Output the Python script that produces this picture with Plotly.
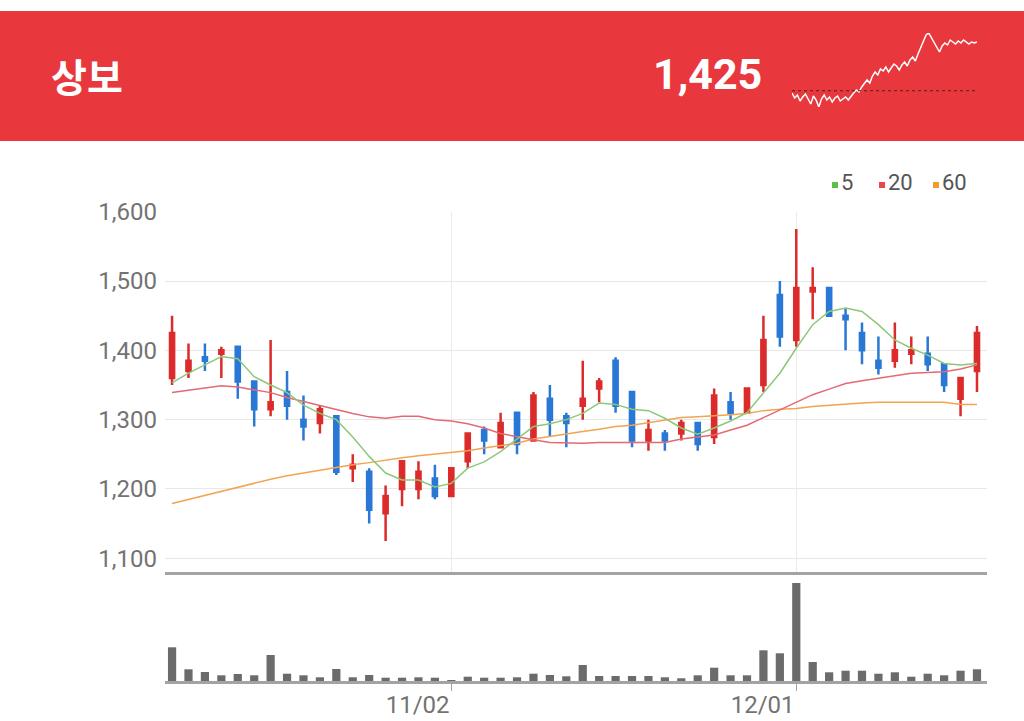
import plotly.graph_objects as go

W, H = 1024, 721

stock_name = "상보"
last_price = "1,425"

dates = [
    "10/07", "10/08", "10/12", "10/13", "10/14", "10/15", "10/16", "10/19", "10/20", "10/21",
    "10/22", "10/23", "10/26", "10/27", "10/28", "10/29", "10/30", "11/02", "11/03", "11/04",
    "11/05", "11/06", "11/09", "11/10", "11/11", "11/12", "11/13", "11/16", "11/17", "11/18",
    "11/19", "11/20", "11/23", "11/24", "11/25", "11/26", "11/27", "11/30", "12/01", "12/02",
    "12/03", "12/04", "12/07", "12/08", "12/09", "12/10", "12/11", "12/14", "12/15", "12/16",
]
opens = [1360, 1370, 1390, 1395, 1405, 1355, 1315, 1340, 1300, 1295,
         1305, 1230, 1225, 1165, 1200, 1200, 1215, 1190, 1240, 1285,
         1260, 1310, 1270, 1330, 1305, 1320, 1345, 1385, 1340, 1270,
         1280, 1280, 1295, 1275, 1325, 1310, 1350, 1480, 1415, 1485,
         1490, 1450, 1425, 1385, 1385, 1395, 1395, 1380, 1330, 1370]
highs = [1450, 1410, 1410, 1405, 1405, 1355, 1415, 1370, 1335, 1320,
         1305, 1250, 1230, 1205, 1240, 1240, 1235, 1230, 1280, 1290,
         1310, 1310, 1340, 1350, 1310, 1385, 1360, 1390, 1340, 1300,
         1285, 1300, 1295, 1345, 1340, 1345, 1450, 1500, 1575, 1520,
         1490, 1460, 1440, 1420, 1440, 1420, 1420, 1380, 1360, 1435]
lows = [1350, 1360, 1370, 1360, 1330, 1290, 1305, 1300, 1270, 1280,
        1220, 1210, 1150, 1125, 1175, 1185, 1185, 1190, 1230, 1250,
        1260, 1250, 1270, 1275, 1260, 1300, 1325, 1310, 1260, 1255,
        1255, 1270, 1255, 1265, 1300, 1310, 1340, 1405, 1405, 1445,
        1450, 1400, 1380, 1365, 1375, 1380, 1370, 1340, 1305, 1340]
closes = [1425, 1385, 1385, 1400, 1355, 1315, 1325, 1320, 1290, 1315,
          1225, 1235, 1170, 1190, 1240, 1225, 1190, 1230, 1280, 1270,
          1295, 1265, 1335, 1300, 1295, 1330, 1355, 1320, 1270, 1285,
          1270, 1295, 1265, 1335, 1310, 1345, 1415, 1420, 1490, 1490,
          1450, 1445, 1400, 1375, 1400, 1400, 1380, 1350, 1360, 1425]

ma5 = [1353, 1367, 1379, 1391, 1388, 1362, 1350, 1339, 1321, 1309,
       1300, 1275, 1247, 1223, 1213, 1213, 1203, 1208, 1230, 1239,
       1254, 1272, 1290, 1294, 1300, 1309, 1324, 1322, 1315, 1313,
       1302, 1288, 1279, 1288, 1298, 1310, 1338, 1367, 1403, 1437,
       1456, 1461, 1456, 1437, 1415, 1403, 1393, 1381, 1379, 1381]
ma20 = [1339, 1342, 1345, 1349, 1347, 1343, 1339, 1332, 1326, 1321,
        1315, 1309, 1304, 1302, 1305, 1305, 1300, 1298, 1294, 1288,
        1280, 1275, 1271, 1267, 1266, 1266, 1267, 1267, 1266, 1266,
        1267, 1272, 1275, 1278, 1285, 1292, 1303, 1314, 1325, 1336,
        1344, 1352, 1356, 1360, 1363, 1367, 1368, 1369, 1373, 1379]
ma60 = [1179, 1185, 1191, 1197, 1203, 1208, 1214, 1219, 1223, 1228,
        1232, 1235, 1238, 1242, 1245, 1248, 1250, 1252, 1255, 1259,
        1262, 1266, 1272, 1276, 1280, 1283, 1286, 1290, 1292, 1296,
        1299, 1303, 1304, 1305, 1307, 1309, 1313, 1315, 1316, 1319,
        1321, 1322, 1324, 1325, 1325, 1325, 1325, 1325, 1322, 1322]

# volume, thousand shares
volume = [337, 117, 90, 57, 70, 57, 260, 73, 57, 37,
          120, 37, 60, 33, 33, 37, 33, 10, 43, 33,
          33, 37, 73, 60, 47, 160, 50, 50, 50, 50,
          37, 27, 57, 133, 57, 57, 307, 277, 980, 190,
          87, 103, 103, 73, 87, 43, 73, 57, 103, 117]

spark = [1221, 1201, 1213, 1189, 1205, 1217, 1197, 1177, 1209, 1193,
         1165, 1197, 1213, 1193, 1205, 1185, 1201, 1209, 1189, 1197,
         1205, 1193, 1209, 1221, 1233, 1225, 1245, 1257, 1273, 1261,
         1289, 1305, 1293, 1317, 1309, 1325, 1305, 1321, 1337, 1329,
         1313, 1333, 1345, 1329, 1353, 1365, 1349, 1377, 1405, 1433,
         1453, 1461, 1441, 1425, 1401, 1385, 1409, 1421, 1413, 1433,
         1425, 1417, 1429, 1421, 1433, 1425, 1417, 1425, 1421, 1425]
spark_base = 1230

price_ticks = [1100, 1200, 1300, 1400, 1500, 1600]
date_ticks = ["11/02", "12/01"]

RED = "#DC2B2B"
BLUE = "#2A78D6"
HEADER = "#E8383D"
MA_COLORS = {"5": "#8DC87A", "20": "#E36A72", "60": "#F2A452"}
LEGEND_COLORS = {"5": "#5DBE4B", "20": "#E84850", "60": "#F39A2E"}
FONT = "Roboto, Noto Sans, sans-serif"
TICK_GREY = "#737373"


def px_x(v):
    return v / W


def px_y(v):
    return 1 - v / H


fig = go.Figure()

for key, vals in (("60", ma60), ("20", ma20), ("5", ma5)):
    fig.add_trace(go.Scatter(
        x=dates, y=vals, mode="lines",
        line=dict(color=MA_COLORS[key], width=1.5),
        xaxis="x", yaxis="y", hoverinfo="skip",
    ))

fig.add_trace(go.Candlestick(
    x=dates, open=opens, high=highs, low=lows, close=closes,
    increasing=dict(line=dict(color=RED, width=2.5), fillcolor=RED),
    decreasing=dict(line=dict(color=BLUE, width=2.5), fillcolor=BLUE),
    whiskerwidth=0,
    xaxis="x", yaxis="y",
))

fig.add_trace(go.Bar(
    x=dates, y=volume,
    marker_color="#6B6B6B", marker_line=dict(width=0),
    width=0.5,
    xaxis="x2", yaxis="y2",
))

fig.add_trace(go.Scatter(
    y=spark, mode="lines",
    line=dict(color="white", width=1.5),
    xaxis="x3", yaxis="y3", hoverinfo="skip",
))

x_dom = [px_x(165), px_x(987)]
x_rng = [-0.43, 49.61]

fig.update_layout(
    width=W, height=H,
    margin=dict(l=0, r=0, t=0, b=0, autoexpand=False),
    paper_bgcolor="white",
    plot_bgcolor="white",
    showlegend=False,
    boxgap=0.64,
    font=dict(family=FONT, color=TICK_GREY),
    xaxis=dict(
        domain=x_dom, anchor="y", type="category", range=x_rng,
        tickvals=date_ticks, showticklabels=False, ticks="",
        showgrid=True, gridcolor="#EBEBEB", gridwidth=1,
        showline=True, linecolor="#A3A3A3", linewidth=2.5,
        rangeslider=dict(visible=False), fixedrange=True, automargin=False,
    ),
    yaxis=dict(
        domain=[px_y(572), px_y(211.7)], anchor="x",
        range=[1080.2, 1600], tickvals=price_ticks, tickformat=",",
        gridcolor="#E8E8E8", gridwidth=1, zeroline=False, showline=False,
        ticks="", ticklabelstandoff=7,
        tickfont=dict(size=24, color=TICK_GREY), fixedrange=True,
        automargin=False,
    ),
    xaxis2=dict(
        domain=x_dom, anchor="y2", type="category", range=x_rng,
        tickvals=date_ticks, ticktext=date_ticks,
        showgrid=False, showline=True, linecolor="#A3A3A3", linewidth=2.5,
        ticks="outside", ticklen=7, tickcolor="#A3A3A3", tickwidth=1,
        ticklabelposition="outside left",
        tickfont=dict(size=24, color=TICK_GREY), fixedrange=True,
        automargin=False,
    ),
    yaxis2=dict(
        domain=[px_y(681), px_y(580)], anchor="x2",
        range=[0, 1010], visible=False, fixedrange=True, automargin=False,
    ),
    xaxis3=dict(
        domain=[px_x(792), px_x(977)], anchor="y3",
        range=[0, len(spark) - 1], visible=False, fixedrange=True,
        automargin=False,
    ),
    yaxis3=dict(
        domain=[px_y(107), px_y(33)], anchor="x3",
        range=[min(spark), max(spark)], visible=False, fixedrange=True,
        automargin=False,
    ),
)

# red header band
fig.add_shape(type="rect", xref="paper", yref="paper",
              x0=0, x1=1, y0=px_y(141), y1=px_y(11),
              fillcolor=HEADER, line=dict(width=0), layer="below")
fig.add_shape(type="line", xref="paper", yref="y3",
              x0=px_x(792), x1=px_x(978), y0=spark_base, y1=spark_base,
              line=dict(color="#4A2020", width=1, dash="dot"))

fig.add_annotation(
    x=px_x(49), y=px_y(75), xref="paper", yref="paper",
    text=stock_name, showarrow=False, xanchor="left", yanchor="middle",
    font=dict(family="Noto Sans CJK KR", size=39, color="white", weight="bold"),
)
fig.add_annotation(
    x=px_x(764), y=px_y(74), xref="paper", yref="paper",
    text=last_price, showarrow=False, xanchor="right", yanchor="middle",
    font=dict(family="Roboto", size=43, color="white", weight="bold"),
)

# legend for the moving averages
legend_pos = {"5": 832, "20": 879, "60": 933}
for key, x0 in legend_pos.items():
    fig.add_shape(type="rect", xref="paper", yref="paper",
                  x0=px_x(x0), x1=px_x(x0 + 6), y0=px_y(188), y1=px_y(182),
                  fillcolor=LEGEND_COLORS[key], line=dict(width=0))
    fig.add_annotation(
        x=px_x(x0 + 7), y=px_y(182), xref="paper", yref="paper",
        text=key, showarrow=False, xanchor="left", yanchor="middle",
        font=dict(family=FONT, size=22, color="#555555"),
    )

fig.write_html("out.html", config={"displayModeBar": False},
               post_script="document.body.style.margin='0';")
